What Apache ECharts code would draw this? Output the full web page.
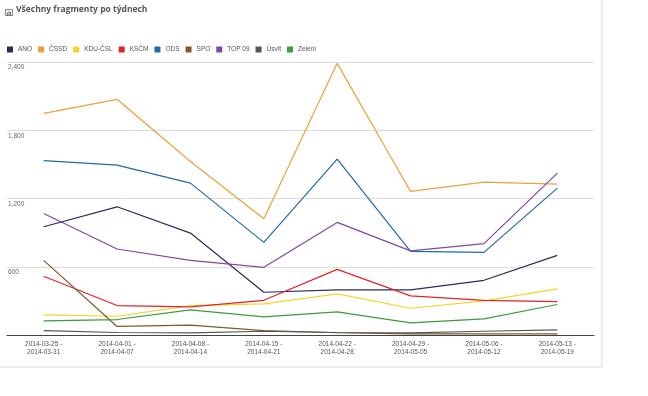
<!DOCTYPE html>
<html>
<head>
<meta charset="utf-8">
<script src="https://cdn.jsdelivr.net/npm/echarts@6/dist/echarts.min.js"></script>
<style>html,body{margin:0;padding:0;background:#fff;}#c{width:648px;height:396px;}</style>
</head>
<body>
<div id="c"></div>
<script>
const categories = ['2014-03-25 -\n2014-03-31','2014-04-01 -\n2014-04-07','2014-04-08 -\n2014-04-14','2014-04-15 -\n2014-04-21','2014-04-22 -\n2014-04-28','2014-04-29 -\n2014-05-05','2014-05-06 -\n2014-05-12','2014-05-13 -\n2014-05-19'];
const seriesNames = ['ANO','ČSSD','KDU-ČSL','KSČM','ODS','SPO','TOP 09','Úsvit','Zelení'];
const seriesColors = ['#2c2a5e','#eba03a','#f8d22a','#e0242a','#1f6aa8','#7b5b2e','#7b4aa8','#555555','#3b9b3f'];
const ANO    = [952, 1127, 896, 376, 396, 396, 481, 700];
const CSSD   = [1949, 2072, 1525, 1022, 2388, 1262, 1344, 1326];
const KDUCSL = [177, 165, 259, 274, 361, 235, 300, 405];
const KSCM   = [516, 259, 247, 305, 577, 344, 305, 294];
const ODS    = [1533, 1493, 1335, 814, 1546, 735, 726, 1291];
const SPO    = [656, 75, 86, 39, 20, 10, 10, 10];
const TOP09  = [1068, 756, 656, 595, 990, 740, 803, 1423];
const USVIT  = [39, 22, 19, 33, 22, 18, 33, 45];
const ZELENI = [124, 136, 221, 160, 203, 107, 142, 268];
const yTicks = [0, 600, 1200, 1800, 2400];
const seriesData = [ANO, CSSD, KDUCSL, KSCM, ODS, SPO, TOP09, USVIT, ZELENI];

const chart = echarts.init(document.getElementById('c'));
chart.setOption({
  animation: false,
  backgroundColor: '#fff',
  graphic: [
    {type:'rect', z:-10, shape:{x:-1,y:-1,width:603,height:368}, style:{fill:'#fff', stroke:'#e8e8e8', lineWidth:1.5}},
    {type:'group', left:3, top:7, children:[
      {type:'rect', shape:{x:0,y:0,width:7,height:6}, style:{fill:'none', stroke:'#666', lineWidth:0.8}},
      {type:'rect', shape:{x:1.5,y:3,width:1,height:3}, style:{fill:'#666'}},
      {type:'rect', shape:{x:3,y:1.5,width:1,height:4.5}, style:{fill:'#666'}},
      {type:'rect', shape:{x:4.5,y:2.5,width:1,height:3.5}, style:{fill:'#666'}}
    ]},
    {type:'text', left:16, top:5, style:{text:'Všechny fragmenty po týdnech', font:'bold 8.5px "Open Sans", sans-serif', fill:'#555'}}
  ],
  legend: {
    data: seriesNames,
    left: 2, top: 41,
    icon: 'rect', itemWidth: 6, itemHeight: 6, itemGap: 6,
    textStyle: {fontSize: 6.5, color: '#555', fontFamily: '"Liberation Sans", Arial, sans-serif'}
  },
  grid: {left: 7, right: 54, top: 62, bottom: 61, containLabel: false},
  xAxis: {
    type: 'category', data: categories, boundaryGap: true,
    axisLine: {lineStyle: {color: '#444', width: 1.2}},
    axisTick: {show: false},
    axisLabel: {interval: 0, fontSize: 6.5, color: '#555', lineHeight: 8, margin: 5, fontFamily: '"Liberation Sans", Arial, sans-serif'}
  },
  yAxis: {
    type: 'value', min: yTicks[0], max: yTicks[yTicks.length-1], interval: yTicks[1]-yTicks[0],
    axisLine: {show: false}, axisTick: {show: false},
    splitLine: {lineStyle: {color: '#dddddd', width: 1.2}},
    axisLabel: {
      inside: true, margin: 1, verticalAlign: 'top', padding: [2,0,0,0],
      fontSize: 6.5, color: '#666', fontFamily: '"Liberation Sans", Arial, sans-serif',
      formatter: v => v === 0 ? '' : v.toLocaleString('en-US')
    }
  },
  series: seriesNames.map((n, i) => ({
    name: n, type: 'line', data: seriesData[i], symbol: 'none',
    color: seriesColors[i], lineStyle: {width: 1.2, color: seriesColors[i]}
  }))
});
</script>
</body>
</html>
